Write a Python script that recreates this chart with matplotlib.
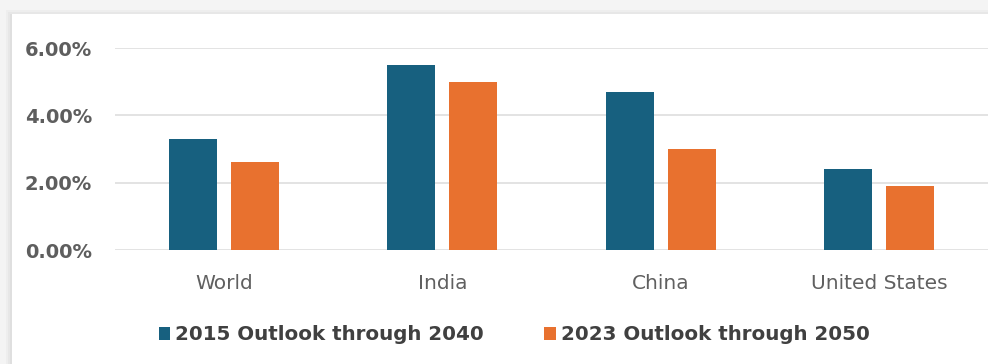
import matplotlib
matplotlib.use("Agg")
import matplotlib.pyplot as plt
import numpy as np
from matplotlib.patches import Rectangle
from matplotlib.ticker import FuncFormatter

categories = ["World", "India", "China", "United States"]
series_2015 = [3.3, 5.5, 4.7, 2.4]
series_2023 = [2.6, 5.0, 3.0, 1.9]
labels = ["2015 Outlook through 2040", "2023 Outlook through 2050"]
colors = ["#17607f", "#e8712f"]

plt.rcParams['font.family'] = ['DejaVu Sans']

fig = plt.figure(figsize=(9.88, 3.64), dpi=100)
fig.patch.set_facecolor("#f4f4f4")

# card with shadow
for i, a in enumerate([0.06, 0.08, 0.1]):
    fig.patches.append(Rectangle((12/988 - (3-i)*0.002, 0), 1.0, (350 - 2 + (3-i)*2)/364,
                                 transform=fig.transFigure, facecolor="#9a9a9a", alpha=a,
                                 edgecolor="none", zorder=0))
fig.patches.append(Rectangle((12/988, 0), 1.0, 1 - 14/364, transform=fig.transFigure,
                             facecolor="white", edgecolor="none", zorder=0.5))

ax = fig.add_axes([115/988, 1 - 250/364, 873/988, (250 - 48)/364])
ax.set_zorder(2)
ax.set_facecolor("none")
x = np.arange(len(categories))
w = 0.22
ax.bar(x - 0.142, series_2015, w, color=colors[0], label=labels[0], zorder=3)
ax.bar(x + 0.142, series_2023, w, color=colors[1], label=labels[1], zorder=3)

ax.set_xlim(-0.5, len(categories) - 0.5)
ax.set_ylim(0, 6)
ax.set_yticks([0, 2, 4, 6])
ax.yaxis.set_major_formatter(FuncFormatter(lambda v, p: f"{v:.2f}%"))
ax.grid(axis="y", color="#dedede", linewidth=1.2, zorder=0)
ax.set_axisbelow(True)
for s in ax.spines.values():
    s.set_visible(False)
ax.tick_params(axis="y", length=0, pad=16.5, labelsize=14, labelcolor="#5e5e5e")
ax.tick_params(axis="x", length=0, pad=17.5, labelsize=14.5, labelcolor="#606060")
for t in ax.get_yticklabels():
    t.set_fontweight("bold")
ax.set_xticks(x)
ax.set_xticklabels(categories)

leg = fig.legend(loc="center", bbox_to_anchor=(514/988, 1 - 335/364), ncol=2, frameon=False,
                 fontsize=14.3, handlelength=0.6, handleheight=0.6, handletextpad=0.25,
                 columnspacing=3.0, borderpad=0)
leg.set_zorder(3)
for t in leg.get_texts():
    t.set_fontweight("bold")
    t.set_color("#404040")

fig.savefig("out.png", dpi=100, facecolor=fig.get_facecolor())
